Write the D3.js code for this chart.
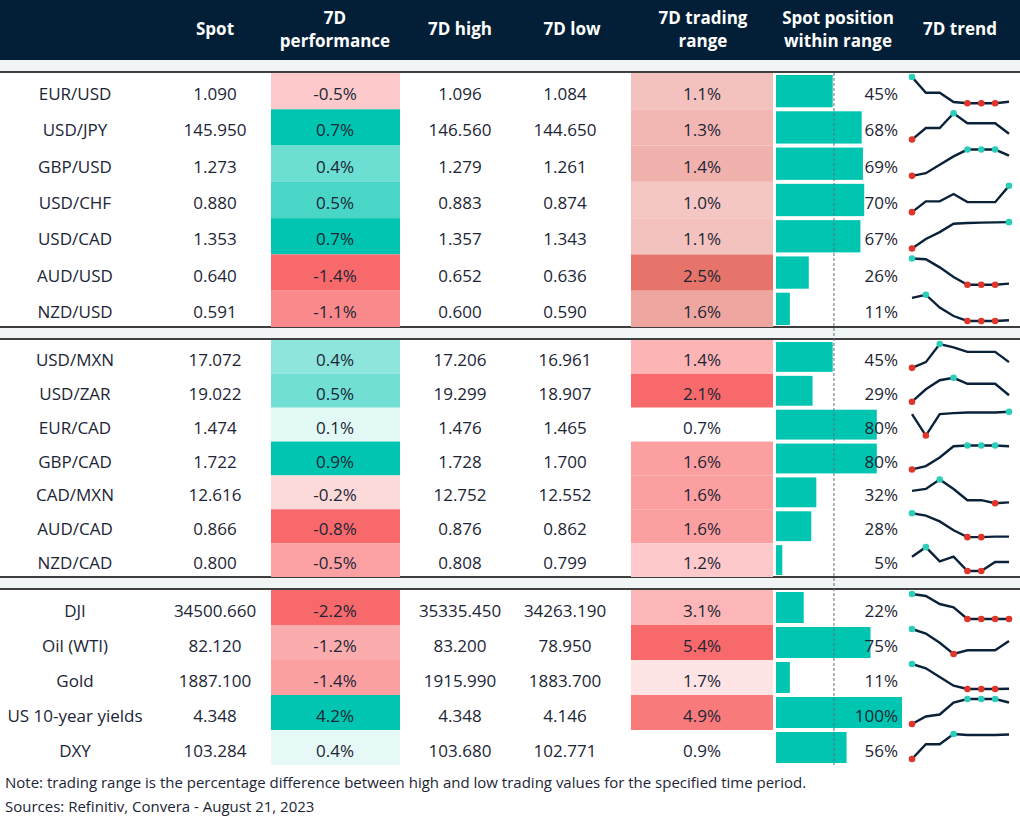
<!DOCTYPE html>
<html><head><meta charset="utf-8">
<script src="https://cdn.jsdelivr.net/npm/d3@7"></script>
<style>body{margin:0;background:#fff}text{font-family:"Open Sans","Noto Sans",sans-serif}</style>
</head><body>
<script>
const names = ['EUR/USD','USD/JPY','GBP/USD','USD/CHF','USD/CAD','AUD/USD','NZD/USD',
  'USD/MXN','USD/ZAR','EUR/CAD','GBP/CAD','CAD/MXN','AUD/CAD','NZD/CAD',
  'DJI','Oil (WTI)','Gold','US 10-year yields','DXY']
const groups = [0,0,0,0,0,0,0, 1,1,1,1,1,1,1, 2,2,2,2,2]
const spot = ['1.090','145.950','1.273','0.880','1.353','0.640','0.591',
  '17.072','19.022','1.474','1.722','12.616','0.866','0.800',
  '34500.660','82.120','1887.100','4.348','103.284']
const perf = [-0.5,0.7,0.4,0.5,0.7,-1.4,-1.1, 0.4,0.5,0.1,0.9,-0.2,-0.8,-0.5, -2.2,-1.2,-1.4,4.2,0.4]
const high = ['1.096','146.560','1.279','0.883','1.357','0.652','0.600',
  '17.206','19.299','1.476','1.728','12.752','0.876','0.808',
  '35335.450','83.200','1915.990','4.348','103.680']
const low = ['1.084','144.650','1.261','0.874','1.343','0.636','0.590',
  '16.961','18.907','1.465','1.700','12.552','0.862','0.799',
  '34263.190','78.950','1883.700','4.146','102.771']
const range = [1.1,1.3,1.4,1.0,1.1,2.5,1.6, 1.4,2.1,0.7,1.6,1.6,1.6,1.2, 3.1,5.4,1.7,4.9,0.9]
const position = [45,68,69,70,67,26,11, 45,29,80,80,32,28,5, 22,75,11,100,56]
const trend = [
  [1,.4,.4,.05,0,0,0,.06],[0,.44,.44,1,.62,.62,.62,.22],[0,.1,.42,.74,1,1,1,.77],
  [0,.41,.41,.69,.38,.38,.38,1],[0,.36,.62,.94,.97,.98,.99,1],[1,.97,.66,.29,0,0,0,.04],
  [.88,1,.51,.19,0,0,0,.03],
  [0,.24,1,.86,.67,.67,.67,.24],[0,.52,.9,1,.75,.75,.75,.27],[.9,0,.9,.94,.97,.97,.97,1],
  [0,.14,.5,.97,1,1,1,.97],[.52,.6,1,.6,.13,.13,0,.04],[1,.9,.66,.29,0,0,.02,.02],
  [.6,1,.4,.6,0,0,.38,.38],
  [1,.92,.6,.47,0,0,0,0],[1,.82,.45,0,.15,.15,.15,.52],[1,.83,.48,.13,0,0,0,.01],
  [0,.3,.38,.86,1,1,1,.86],[0,.59,.59,1,.96,.96,.96,.98]]
const headers = [['Spot'],['7D','performance'],['7D high'],['7D low'],['7D trading','range'],['Spot position','within range'],['7D trend']]

const W = 1020, H = 832
const navy = '#021f37', txt = '#1b2535', green = '#00c5b0'
const svg = d3.select('body').append('svg').attr('width', W).attr('height', H)

// group layout
const groupBox = [{y0: 73, y1: 327, n: 7}, {y0: 340, y1: 577, n: 7}, {y0: 590, y1: 765, n: 5}]
const rows = names.map((n, i) => {
  const g = groups[i], first = groups.indexOf(g)
  const b = groupBox[g], h = (b.y1 - b.y0) / b.n
  return {i, g, y: b.y0 + (i - first) * h, h}
})

svg.append('rect').attr('x', 0).attr('y', 0).attr('width', W).attr('height', 60).attr('fill', navy)
const hx = [215, 335, 460, 572, 703, 838, 960]
headers.forEach((h, k) => {
  h.forEach((s, j) => {
    svg.append('text').attr('x', hx[k]).attr('y', (h.length == 1 ? 35 : 24) + j * 23)
      .attr('text-anchor', 'middle').attr('fill', '#fff').style('font-weight', 700).style('font-size', '17px').text(s)
  })
})
// gray separators
;[[60, 72], [327, 339], [577, 589]].forEach(([a, b]) => {
  svg.append('rect').attr('x', 0).attr('y', a).attr('width', W).attr('height', b - a).attr('fill', '#f1f4f5')
  if (a > 60) svg.append('line').attr('x1', 0).attr('x2', W).attr('y1', a).attr('y2', a).attr('stroke', '#000').attr('stroke-width', 1.5)
  svg.append('line').attr('x1', 0).attr('x2', W).attr('y1', b).attr('y2', b).attr('stroke', '#000').attr('stroke-width', 1.5)
})

// colour scales per group
const perfScale = [0, 1, 2].map(g => {
  const v = perf.filter((d, i) => groups[i] == g)
  return d3.scaleLinear().domain([d3.min(v), 0, d3.max(v)]).range(['#f8696b', '#ffffff', green])
})
const rangeScale = [
  d3.scaleLinear().domain([0, 2.5]).range(['#ffffff', '#e6746b']),
  ...[1, 2].map(g => {
    const v = range.filter((d, i) => groups[i] == g)
    return d3.scaleLinear().domain(d3.extent(v)).range(['#ffffff', '#f8696b'])
  })
]
const bx = d3.scaleLinear().domain([0, 100]).range([776, 902])
const sx = d3.scaleLinear().domain([0, 7]).range([912, 1009])
const pct = v => (v < 0 ? '-' : '') + Math.abs(v).toFixed(1) + '%'

const cell = (x, w, r, fill) => svg.append('rect').attr('x', x).attr('y', r.y).attr('width', w).attr('height', r.h).attr('fill', fill)
const label = (x, r, s, anchor) => svg.append('text').attr('x', x).attr('y', r.y + r.h / 2 + 9)
  .attr('text-anchor', anchor || 'middle').attr('fill', txt).style('font-size', '17px').text(s)

rows.forEach(r => {
  const i = r.i
  cell(271, 129, r, perfScale[r.g](perf[i]))
  cell(631, 142, r, rangeScale[r.g](range[i]))
  label(75, r, names[i])
  label(215, r, spot[i])
  label(335, r, pct(perf[i]))
  label(460, r, high[i])
  label(565, r, low[i])
  label(702, r, pct(range[i]))
  svg.append('rect').attr('x', bx(0)).attr('y', r.y + 2).attr('width', bx(position[i]) - bx(0))
    .attr('height', r.h - 4).attr('fill', green)
  label(898, r, position[i] + '%', 'end')
  // sparkline
  const sy = d3.scaleLinear().domain([0, 1]).range([r.y + r.h - 6, r.y + 4])
  const t = trend[i]
  svg.append('path').attr('d', d3.line().x((d, k) => sx(k)).y(d => sy(d))(t))
    .attr('fill', 'none').attr('stroke', '#0a2239').attr('stroke-width', 2.4)
  const mn = d3.min(t), mx = d3.max(t)
  t.forEach((d, k) => {
    if (d == mn || d == mx)
      svg.append('circle').attr('cx', sx(k)).attr('cy', sy(d)).attr('r', 3.3)
        .attr('fill', d == mx ? '#2ccdb9' : '#e0352b')
  })
})
// dashed reference line
svg.append('line').attr('x1', bx(46)).attr('x2', bx(46)).attr('y1', 73).attr('y2', 765)
  .attr('stroke', '#5a6f80').attr('stroke-width', 1).attr('stroke-dasharray', '3,2')

svg.append('text').attr('x', 5).attr('y', 788).attr('fill', txt).style('font-size', '15px')
  .text('Note: trading range is the percentage difference between high and low trading values for the specified time period.')
svg.append('text').attr('x', 5).attr('y', 812).attr('fill', txt).style('font-size', '15px')
  .text('Sources: Refinitiv, Convera - August 21, 2023')
</script>
</body></html>
